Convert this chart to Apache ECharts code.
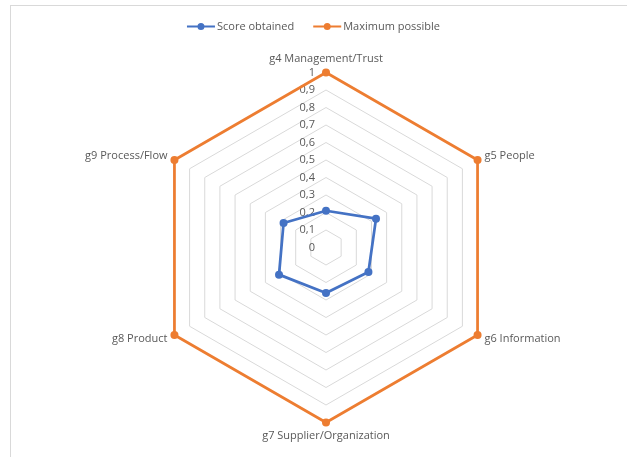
<!DOCTYPE html>
<html>
<head>
<meta charset="utf-8">
<script src="https://cdn.jsdelivr.net/npm/echarts@6/dist/echarts.min.js"></script>
<style>
  html, body { margin: 0; padding: 0; background: #fff; }
  #frame { position: absolute; left: 10px; top: 5px; width: 700px; height: 500px;
           border-left: 1px solid #d9d9d9; border-top: 1px solid #d9d9d9; }
  #chart { position: absolute; left: 0; top: 0; width: 627px; height: 457px; }
</style>
</head>
<body>
<div id="frame"></div>
<div id="chart"></div>
<script>
// indicators listed counterclockwise from the top (ECharts lays them out that way)
const categories = ['g4 Management/Trust', 'g9 Process/Flow', 'g8 Product',
                    'g7 Supplier/Organization', 'g6 Information', 'g5 People'];
const scoreObtained = [0.21, 0.28, 0.31, 0.26, 0.28, 0.33];
const maximumPossible = [1, 1, 1, 1, 1, 1];
const seriesNames = ['Score obtained', 'Maximum possible'];

const textColor = '#595959';
const font = '"Open Sans", "Liberation Sans", sans-serif';
// line with a dot in the middle, like the Excel legend marker
const lineDotIcon = 'path://M0,2.6H28V4.4H0Z M10.5,3.5A3.5,3.5 0 1,1 17.5,3.5A3.5,3.5 0 1,1 10.5,3.5Z';

const chart = echarts.init(document.getElementById('chart'));

chart.setOption({
  animation: false,
  legend: {
    top: 16,
    left: 'center',
    itemWidth: 28,
    itemHeight: 7,
    itemGap: 19,
    icon: lineDotIcon,
    textStyle: { color: textColor, fontSize: 11, fontFamily: font, padding: [0, 0, 0, -3] },
    data: seriesNames
  },
  radar: {
    center: [326, 247.5],
    radius: 175,
    startAngle: 90,
    splitNumber: 10,
    shape: 'polygon',
    nameGap: 8,
    axisName: { color: textColor, fontSize: 11, fontFamily: font },
    axisLine: { show: false },
    axisTick: { show: false },
    axisLabel: { show: false },
    splitArea: { show: false },
    splitLine: { lineStyle: { color: '#d9d9d9', width: 1 } },
    indicator: categories.map((name, i) => ({
      name: name,
      min: 0,
      max: 1,
      axisLabel: i === 0 ? {
        show: true,
        color: textColor,
        fontSize: 11,
        fontFamily: font,
        margin: 11,
        formatter: v => String(+v.toFixed(1)).replace('.', ',')
      } : { show: false }
    }))
  },
  series: [{
    type: 'radar',
    symbol: 'circle',
    symbolSize: 8,
    data: [
      {
        name: seriesNames[0],
        value: scoreObtained,
        itemStyle: { color: '#4472C4' },
        lineStyle: { color: '#4472C4', width: 2.75 }
      },
      {
        name: seriesNames[1],
        value: maximumPossible,
        itemStyle: { color: '#ED7D31' },
        lineStyle: { color: '#ED7D31', width: 2.75 }
      }
    ]
  }]
});
</script>
</body>
</html>
